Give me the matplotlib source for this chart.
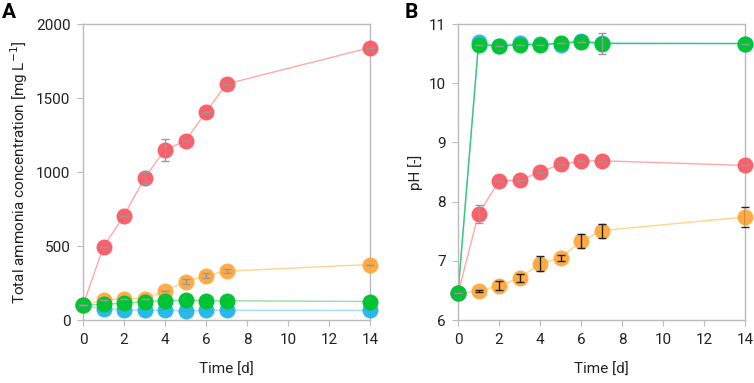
import matplotlib
matplotlib.use("Agg")
import matplotlib.pyplot as plt

plt.rcParams['font.family'] = ['Roboto', 'DejaVu Sans']

# time points [d]
days = [0, 1, 2, 3, 4, 5, 6, 7, 14]

# Panel A: total ammonia concentration [mg/L]
tan_red = [100, 495, 705, 960, 1150, 1210, 1405, 1595, 1840]
tan_red_err = [0, 0, 0, 40, 75, 0, 0, 0, 0]
tan_orange = [100, 135, 145, 145, 195, 260, 300, 330, 375]
tan_orange_err = [0, 0, 0, 0, 0, 15, 15, 15, 0]
tan_green = [100, 105, 115, 125, 130, 135, 130, 130, 125]
tan_blue = [100, 75, 70, 65, 65, 60, 65, 65, 65]

# Panel B: pH
ph_blue = [6.45, 10.70, 10.63, 10.68, 10.67, 10.65, 10.72, 10.68, 10.67]
ph_green = [6.45, 10.65, 10.63, 10.65, 10.65, 10.68, 10.70, 10.67, 10.67]
ph_green_err = [0, 0, 0, 0, 0, 0, 0, 0.18, 0]
ph_red = [6.45, 7.79, 8.35, 8.36, 8.50, 8.63, 8.68, 8.69, 8.61]
ph_red_err = [0, 0.15, 0, 0, 0, 0, 0, 0, 0]
ph_orange = [6.45, 6.49, 6.58, 6.71, 6.95, 7.05, 7.33, 7.51, 7.74]
ph_orange_err = [0, 0.02, 0.08, 0.06, 0.13, 0.05, 0.12, 0.12, 0.17]

RED, RED_L = "#F85560", "#FFA8A8"
ORA, ORA_L = "#FFA436", "#FFD58A"
GRN, GRN_L = "#00C434", "#90E0A0"
BLU, BLU_L = "#1AB2E8", "#A8DDF2"
SPINE = "#BBBBBB"
MS = 11.5

fig = plt.figure(figsize=(7.54, 3.83), dpi=100)
axA = fig.add_axes([83/754, 63/383, 287/754, 296/383])
axB = fig.add_axes([458/754, 63/383, 287/754, 296/383])


def series(ax, y, col, lcol, err=None, ecol="#999999", alpha=0.92):
    ax.plot(days, y, "-", color=lcol, lw=1.0, zorder=2)
    if err is not None:
        ax.errorbar(days, y, yerr=err, fmt="none", ecolor=ecol, elinewidth=1.0,
                    capsize=3, capthick=1.0, zorder=4)
    ax.plot(days, y, "o", color=col, ms=MS, mec="none", alpha=alpha, zorder=3)


series(axA, tan_red, RED, RED_L, tan_red_err)
series(axA, tan_blue, BLU, BLU_L)
series(axA, tan_orange, ORA, ORA_L, tan_orange_err)
series(axA, tan_green, GRN, GRN_L, alpha=1.0)

series(axB, ph_orange, ORA, ORA_L, ph_orange_err, ecol="#222222")
series(axB, ph_red, RED, RED_L, ph_red_err)
series(axB, ph_blue, BLU, BLU_L)
axB.plot(days, ph_green, "-", color="#3CC57A", lw=1.0, zorder=2)
axB.errorbar(days, ph_green, yerr=ph_green_err, fmt="none", ecolor="#999999",
             elinewidth=1.0, capsize=3, zorder=4)
axB.plot(days, ph_green, "o", color=GRN, ms=MS, mec="none", zorder=3)

for ax in (axA, axB):
    ax.set_xlim(0, 14)
    ax.set_xticks(range(0, 15, 2))
    for s in ax.spines.values():
        s.set_color(SPINE)
        s.set_linewidth(1.0)
    ax.tick_params(direction="out", length=4, color=SPINE, labelsize=11,
                   labelcolor="#222222", pad=5)
    ax.set_xlabel("Time [d]", fontsize=11, labelpad=12, color="#222222")
    for m in ax.lines:
        m.set_clip_on(False)

axA.set_ylim(0, 2000)
axA.set_yticks([0, 500, 1000, 1500, 2000])
axA.set_ylabel("Total ammonia concentration [mg L$^{-1}$]", fontsize=11, color="#222222")

axB.set_ylim(6, 11)
axB.set_yticks([6, 7, 8, 9, 10, 11])
axB.set_ylabel("pH [-]", fontsize=11, color="#222222")

fig.text(2/754, 1 - 12/383, "A", fontsize=15, fontweight="bold", va="center")
fig.text(405/754, 1 - 12/383, "B", fontsize=15, fontweight="bold", va="center")

fig.savefig("out.png", dpi=100)
